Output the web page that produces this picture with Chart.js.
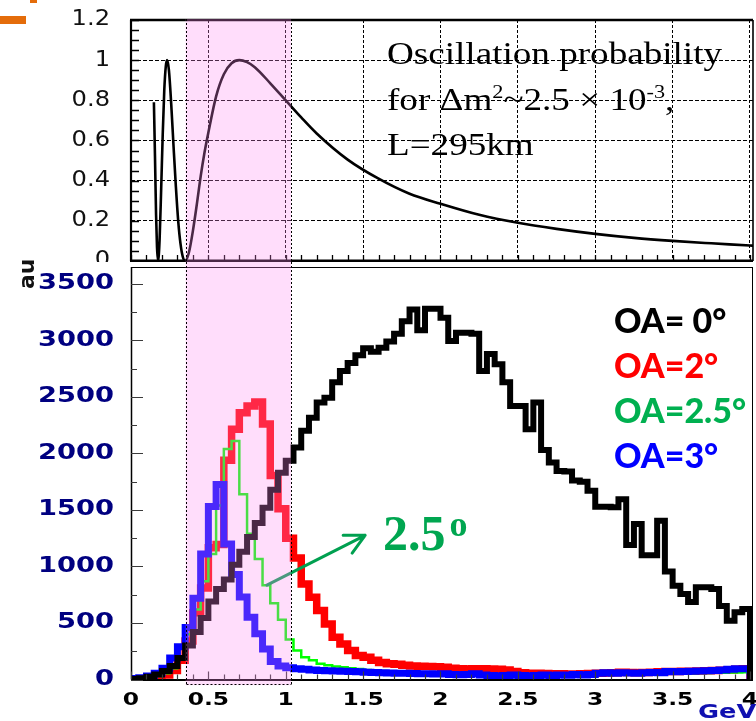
<!DOCTYPE html>
<html>
<head>
<meta charset="utf-8">
<title>Off-axis neutrino spectra and oscillation probability</title>
<script src="https://cdn.jsdelivr.net/npm/chart.js@4.4.1/dist/chart.umd.min.js"></script>
<style>
  html, body { margin:0; padding:0; background:#fff; }
  #wrap { position:relative; width:756px; height:721px; overflow:hidden; background:#fff; }
  #cTop { position:absolute; left:0; top:0; }
  #cBot { position:absolute; left:0; top:262px; background:#fff; }
  .txt { position:absolute; white-space:nowrap; }
  .osc { left:387px; top:31px; font-family:"Liberation Serif","Times New Roman",serif; font-size:32px; line-height:45.5px; color:#000; transform:scaleX(1.16); transform-origin:0 0; }
  .sup { font-size:0.6em; position:relative; top:-0.62em; line-height:0; }
  .legend { left:614px; top:297px; font-family:Lato,"Open Sans",sans-serif; font-weight:900; font-size:34px; line-height:45px; }
  .ang { left:383px; top:508px; font-family:"Liberation Serif",serif; font-weight:700; font-size:50px; line-height:50px; color:#00a650; }
  .au { left:16px; top:289px; font-family:"DejaVu Sans",sans-serif; font-size:22px; font-weight:600; line-height:22px; transform:rotate(-90deg); transform-origin:0 0; color:#111; }
  .gev { left:698px; top:702px; font-family:"DejaVu Sans",sans-serif; font-weight:700; font-size:19px; line-height:19px; color:#1010b0; transform:scaleX(1.35); transform-origin:0 0; }
  .bar { position:absolute; background:#e46c0a; }
</style>
</head>
<body>
<div id="wrap">
  <canvas id="cTop" width="756" height="263"></canvas>
  <canvas id="cBot" width="756" height="459"></canvas>
  <div class="bar" style="left:0;top:16px;width:26px;height:8px"></div>
  <div class="bar" style="left:30px;top:0;width:7px;height:3px"></div>
  <div class="txt osc">Oscillation probability<br>for Δm<span class="sup">2</span>~2.5 × 10<span class="sup">-3</span>,<br>L=295km</div>
  <div class="txt legend"><div style="color:#000">OA= 0°</div><div style="color:#ff0000">OA=2°</div><div style="color:#00b050">OA=2.5°</div><div style="color:#0000ff">OA=3°</div></div>
  <div class="txt ang">2.5<span style="font-size:36px;position:relative;top:-14px;line-height:0;margin-left:4px">o</span></div>
  <div class="txt au">au</div>
  <div class="txt gev">GeV</div>
</div>
<script>
// ---------- data ----------
const BIN_START = 0;
const BIN_WIDTH = 0.05;

// OA = 0 deg (black)
const oa0Counts = [
  5, 12, 25, 45, 75, 120, 190, 300, 420, 545,
  690, 800, 885, 1015, 1130, 1260, 1385, 1520, 1680, 1830,
  1935, 2052, 2200, 2317, 2450, 2494, 2630, 2730, 2800, 2870,
  2930, 2900, 2935, 2990, 3060, 3170, 3274, 3090, 3280, 3280,
  3200, 2995, 3068, 3068, 3060, 2730, 2880, 2790, 2630, 2420,
  2420, 2214, 2450, 2030, 1920, 1845, 1840, 1760, 1750, 1670,
  1528, 1528, 1525, 1596, 1190, 1375, 1100, 1100, 1405, 955,
  830, 757, 685, 816, 816, 800, 650, 520, 595, 624
];
// OA = 2 deg (red)
const oa2Counts = [
  2, 5, 10, 20, 40, 80, 170, 340, 590, 810,
  1165, 1195, 1940, 2214, 2360, 2420, 2455, 2260, 1805, 1510,
  1250, 1075, 845, 727, 610, 492, 374, 315, 256, 212,
  197, 170, 150, 140, 135, 125, 120, 118, 115, 112,
  108, 100, 95, 90, 95, 95, 92, 90, 85, 70,
  60, 55, 55, 52, 50, 50, 48, 48, 50, 52,
  55, 58, 60, 65, 62, 60, 62, 65, 68, 70,
  70, 72, 74, 76, 78, 80, 82, 85, 90, 95
];
// OA = 2.5 deg (green)
const oa25Counts = [
  3, 8, 15, 30, 55, 100, 200, 400, 620, 870,
  1110, 1540, 2040, 2110, 1640, 1290, 1066, 835, 675, 528,
  355, 256, 197, 170, 140, 125, 115, 108, 100, 92,
  85, 80, 75, 72, 70, 68, 65, 62, 60, 58,
  55, 55, 52, 50, 50, 48, 48, 45, 45, 45,
  42, 42, 40, 40, 40, 40, 40, 40, 42, 42,
  45, 45, 45, 48, 48, 48, 50, 50, 52, 52,
  55, 55, 55, 58, 58, 60, 60, 62, 62, 65
];
// OA = 3 deg (blue)
const oa3Counts = [
  8, 15, 30, 55, 100, 190, 290, 460, 720, 1110,
  1530, 1725, 1200, 930, 730, 550, 405, 270, 160, 120,
  105, 95, 90, 85, 80, 78, 75, 72, 70, 68,
  65, 62, 60, 58, 55, 55, 52, 50, 50, 48,
  50, 45, 42, 45, 50, 40, 35, 32, 35, 40,
  35, 32, 35, 40, 35, 40, 38, 45, 40, 45,
  55, 60, 55, 60, 58, 55, 60, 62, 60, 70,
  68, 70, 72, 75, 78, 80, 85, 90, 95, 95
];

// oscillation probability curve
const probEnergy = [0.148, 0.155, 0.162, 0.168, 0.175, 0.185, 0.195, 0.205, 0.215, 0.225,
  0.233, 0.245, 0.26, 0.275, 0.29, 0.305, 0.32, 0.335, 0.35, 0.375,
  0.4, 0.425, 0.45, 0.475, 0.5, 0.55, 0.6, 0.65, 0.7, 0.75,
  0.8, 0.9, 1.0, 1.1, 1.2, 1.4, 1.6, 1.8, 2.0, 2.25,
  2.5, 2.75, 3.0, 3.25, 3.5, 3.75, 4.0, 4.02];
const probValue = [0.79, 0.52, 0.23, 0.07, 0.0, 0.11, 0.36, 0.63, 0.85, 0.97,
  1.0, 0.95, 0.78, 0.57, 0.37, 0.2, 0.085, 0.02, 0.0, 0.045,
  0.15, 0.28, 0.42, 0.54, 0.64, 0.82, 0.93, 0.985, 1.0, 0.99,
  0.965, 0.885, 0.8, 0.715, 0.635, 0.505, 0.41, 0.335, 0.285, 0.23,
  0.19, 0.16, 0.135, 0.115, 0.1, 0.088, 0.077, 0.076];

// ticks
const probTicks = [0, 0.2, 0.4, 0.6, 0.8, 1, 1.2];
const probTickLabels = ['0', '0.2', '0.4', '0.6', '0.8', '1', '1.2'];
const energyTicks = [0, 0.5, 1, 1.5, 2, 2.5, 3, 3.5, 4];
const energyTickLabels = ['0', '0.5', '1', '1.5', '2', '2.5', '3', '3.5', '4'];
const countTicks = [0, 500, 1000, 1500, 2000, 2500, 3000, 3500];
const countTickLabels = ['0', '500', '1000', '1500', '2000', '2500', '3000', '3500'];

// ranges & annotations (in data units)
const E_MIN = 0, E_MAX = 4.0194;
const COUNT_MAX = 3650;
const BAND_LO = 0.353, BAND_HI = 1.034;
const BAND_FLOOR = -50;
const ARROW_TAIL = { x: 0.878, y: 835 };
const ARROW_HEAD = { x: 1.513, y: 1276 };

// ---------- helpers ----------
const BAND_FILL = 'rgba(255,138,241,0.29)';

function histPoints(vals) {
  const pts = [{ x: BIN_START, y: 0 }];
  vals.forEach((v, i) => {
    const lo = BIN_START + i * BIN_WIDTH;
    pts.push({ x: lo, y: v }, { x: lo + BIN_WIDTH, y: v });
  });
  pts.push({ x: BIN_START + vals.length * BIN_WIDTH, y: 0 });
  return pts;
}

function drawBand(ctx, xs, yTop, yBot, withFloor) {
  const xl = xs.getPixelForValue(BAND_LO), xr = xs.getPixelForValue(BAND_HI);
  ctx.save();
  ctx.fillStyle = BAND_FILL;
  ctx.fillRect(xl, yTop, xr - xl, yBot - yTop);
  ctx.strokeStyle = '#000';
  ctx.lineWidth = 1;
  ctx.setLineDash([2, 2]);
  ctx.beginPath();
  const L = Math.round(xl) + 0.5, R = Math.round(xr) + 0.5;
  ctx.moveTo(L, yTop); ctx.lineTo(L, yBot);
  ctx.moveTo(R, yTop); ctx.lineTo(R, yBot);
  if (withFloor) {
    const fy = Math.round(yBot) - 0.5;
    ctx.moveTo(L, fy); ctx.lineTo(R, fy);
  }
  ctx.stroke();
  ctx.restore();
}

function seg(ctx, x1, y1, x2, y2) { ctx.moveTo(x1, y1); ctx.lineTo(x2, y2); }

// widen the tick-label glyphs horizontally (the original figure uses stretched fonts)
function stretchPlugin(sx) {
  return {
    id: 'stretchText',
    beforeDraw(chart) {
      const ctx = chart.ctx;
      if (ctx.__stretched) return;
      const orig = ctx.fillText.bind(ctx);
      ctx.fillText = function (text, x, y, maxWidth) {
        ctx.save();
        ctx.translate(x, y);
        ctx.scale(sx, 1);
        if (maxWidth === undefined || maxWidth === null) orig(text, 0, 0);
        else orig(text, 0, 0, maxWidth / sx);
        ctx.restore();
      };
      ctx.__stretched = true;
    }
  };
}

const topDecor = {
  id: 'topDecor',
  afterDatasetsDraw(chart) {
    const { ctx, chartArea: a, scales: { x, y } } = chart;
    ctx.save();
    ctx.strokeStyle = '#000';
    ctx.lineWidth = 1.3;
    ctx.beginPath();
    for (let k = 0; k <= 24; k++) {
      const py = Math.round(y.getPixelForValue(k * 0.05)) + 0.5;
      seg(ctx, a.left, py, a.left + 8, py);
    }
    for (let k = 0; k <= 40; k++) {
      const px = Math.round(x.getPixelForValue(k * 0.1)) + 0.5;
      seg(ctx, px, a.bottom, px, a.bottom - 6);
    }
    ctx.stroke();
    ctx.lineWidth = 2.6; ctx.beginPath(); seg(ctx, a.left - 1, a.top, a.right, a.top); ctx.stroke();
    ctx.lineWidth = 3; ctx.beginPath(); seg(ctx, a.left - 1, a.bottom, a.right, a.bottom); ctx.stroke();
    ctx.lineWidth = 2.2; ctx.beginPath(); seg(ctx, a.left, a.top, a.left, a.bottom); ctx.stroke();
    ctx.lineWidth = 1.6; ctx.beginPath(); seg(ctx, a.right, a.top, a.right, a.bottom); ctx.stroke();
    ctx.restore();
    drawBand(ctx, x, a.top - 1, chart.height, false);
  }
};

const bottomDecor = {
  id: 'bottomDecor',
  afterDatasetsDraw(chart) {
    const { ctx, chartArea: a, scales: { x, y } } = chart;
    ctx.save();
    // frame
    ctx.strokeStyle = '#000';
    ctx.lineWidth = 1;
    ctx.strokeRect(Math.round(a.left) + 0.5, Math.round(a.top) + 0.5, Math.round(a.right - a.left) - 1, Math.round(a.bottom - a.top));
    ctx.lineWidth = 1.5; ctx.beginPath(); seg(ctx, a.left + 0.5, a.top, a.left + 0.5, a.bottom); ctx.stroke();
    ctx.lineWidth = 2.2; ctx.beginPath(); seg(ctx, a.left, a.bottom + 0.5, a.right, a.bottom + 0.5); ctx.stroke();
    // ticks
    ctx.strokeStyle = '#3a3a3a';
    ctx.lineWidth = 1.2;
    ctx.beginPath();
    countTicks.forEach((v) => {
      const py = Math.round(y.getPixelForValue(v)) + 0.5;
      seg(ctx, a.left, py, a.left + 12, py);
      const pm = Math.round(y.getPixelForValue(v + 250)) + 0.5;
      if (v + 250 < COUNT_MAX) seg(ctx, a.left, pm, a.left + 6, pm);
    });
    for (let k = 0; k <= 40; k++) {
      const px = Math.round(x.getPixelForValue(k * 0.1)) + 0.5;
      const len = (k % 5 === 0) ? 8 : 5;
      seg(ctx, px, a.bottom, px, a.bottom - len);
    }
    ctx.stroke();
    // arrow
    const p0 = { x: x.getPixelForValue(ARROW_TAIL.x), y: y.getPixelForValue(ARROW_TAIL.y) };
    const p1 = { x: x.getPixelForValue(ARROW_HEAD.x), y: y.getPixelForValue(ARROW_HEAD.y) };
    ctx.strokeStyle = '#00a050';
    ctx.lineWidth = 3;
    ctx.lineCap = 'round';
    ctx.beginPath();
    seg(ctx, p0.x, p0.y, p1.x, p1.y);
    const ang = Math.atan2(p1.y - p0.y, p1.x - p0.x);
    [-1, 1].forEach((s) => {
      const w = ang + Math.PI + s * 0.47;
      seg(ctx, p1.x, p1.y, p1.x + 22 * Math.cos(w), p1.y + 22 * Math.sin(w));
    });
    ctx.stroke();
    ctx.restore();
    drawBand(ctx, x, 0, y.getPixelForValue(BAND_FLOOR), true);
  }
};

const common = {
  responsive: false,
  animation: false,
  devicePixelRatio: 1,
  events: [],
  plugins: { legend: { display: false }, tooltip: { enabled: false } }
};

// ---------- upper panel ----------
new Chart(document.getElementById('cTop'), {
  type: 'line',
  data: {
    datasets: [{
      data: probEnergy.map((e, i) => ({ x: e, y: probValue[i] })),
      borderColor: '#000',
      borderWidth: 2.6,
      pointRadius: 0,
      cubicInterpolationMode: 'monotone',
      fill: false
    }]
  },
  options: {
    ...common,
    layout: { padding: { left: 0, right: 3, top: 20, bottom: 0 } },
    scales: {
      x: {
        type: 'linear', min: E_MIN, max: E_MAX,
        afterBuildTicks: (s) => { s.ticks = energyTicks.map((v) => ({ value: v })); },
        ticks: { display: false },
        grid: { color: '#000', lineWidth: 1, drawTicks: false },
        border: { display: false, dash: [3, 2] },
        afterFit: (s) => { s.height = 2; s.paddingLeft = 0; s.paddingRight = 0; }
      },
      y: {
        type: 'linear', min: 0, max: 1.2,
        afterBuildTicks: (s) => { s.ticks = probTicks.map((v) => ({ value: v })); },
        ticks: {
          callback: (v, i) => probTickLabels[i],
          color: '#111',
          padding: 21,
          font: { family: 'DejaVu Sans', size: 21 }
        },
        grid: { color: '#000', lineWidth: 1, drawTicks: false },
        border: { display: false, dash: [4, 2] },
        afterFit: (s) => { s.width = 131; s.paddingTop = 0; s.paddingBottom = 0; }
      }
    }
  },
  plugins: [stretchPlugin(1.15), topDecor]
});

// ---------- lower panel ----------
const histStyle = { pointRadius: 0, fill: false, tension: 0, borderJoinStyle: 'miter', borderCapStyle: 'butt' };
new Chart(document.getElementById('cBot'), {
  type: 'line',
  data: {
    datasets: [
      { label: 'OA=0°', data: histPoints(oa0Counts), borderColor: '#000000', borderWidth: 6, ...histStyle },
      { label: 'OA=3°', data: histPoints(oa3Counts), borderColor: '#0000ff', borderWidth: 7, ...histStyle },
      { label: 'OA=2.5°', data: histPoints(oa25Counts), borderColor: '#00ff00', borderWidth: 2.5, ...histStyle },
      { label: 'OA=2°', data: histPoints(oa2Counts), borderColor: '#ff0000', borderWidth: 7.5, ...histStyle }
    ]
  },
  options: {
    ...common,
    layout: { padding: { left: 0, right: 3, top: 5, bottom: 0 } },
    scales: {
      x: {
        type: 'linear', min: E_MIN, max: E_MAX,
        afterBuildTicks: (s) => { s.ticks = energyTicks.map((v) => ({ value: v })); },
        ticks: {
          callback: (v, i) => energyTickLabels[i],
          color: '#000',
          padding: 2,
          autoSkip: false,
          maxRotation: 0,
          font: { family: 'DejaVu Sans', size: 18, weight: 'bold' }
        },
        grid: { display: false },
        border: { display: false },
        afterFit: (s) => { s.height = 41.5; s.paddingLeft = 0; s.paddingRight = 0; }
      },
      y: {
        type: 'linear', min: 0, max: COUNT_MAX,
        afterBuildTicks: (s) => { s.ticks = countTicks.map((v) => ({ value: v })); },
        ticks: {
          callback: (v, i) => countTickLabels[i],
          color: '#000080',
          padding: 9,
          font: { family: 'DejaVu Sans', size: 21, weight: 'bold' }
        },
        grid: { display: false },
        border: { display: false },
        afterFit: (s) => { s.width = 131; s.paddingTop = 0; s.paddingBottom = 0; }
      }
    }
  },
  plugins: [stretchPlugin(1.3), bottomDecor]
});
</script>
</body>
</html>
